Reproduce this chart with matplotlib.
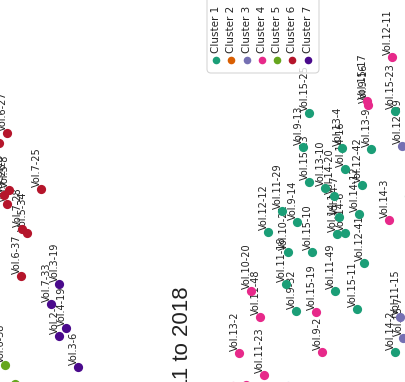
import matplotlib
matplotlib.use("Agg")
import matplotlib.pyplot as plt
from matplotlib.patches import FancyBboxPatch

# embedding coordinates (chart is shown turned on its side)
cluster_names = ["Cluster 1", "Cluster 2", "Cluster 3", "Cluster 4", "Cluster 5", "Cluster 6", "Cluster 7"]
cluster_colors = ["#1b9e77", "#d95f02", "#7570b3", "#e7298a", "#66a61e", "#b5152b", "#4a0a8c"]

labels = [
    # cluster 6
    "Vol.6-27", "Vol.6-5", "Vol.5-8", "Vol.6-15", "Vol.7-26", "Vol.7-28", "Vol.5-34", "Vol.6-37", "Vol.7-25",
    # cluster 7
    "Vol.7-33", "Vol.3-19", "Vol.4-19", "Vol.2-7", "Vol.3-6", "Vol.7-34", "Vol.7-27", "Vol.2-19",
    # cluster 5
    "Vol.6-38", "Vol.6-9",
    # cluster 4
    "Vol.15-17", "Vol.9-16", "Vol.12-11", "Vol.14-3", "Vol.10-20", "Vol.11-48", "Vol.13-2", "Vol.11-23",
    "Vol.15-19", "Vol.9-2", "Vol.10-39", "Vol.9-31", "Vol.14-5",
    # cluster 3
    "Vol.12-39", "Vol.11-15", "Vol.15-7", "Vol.12-14",
    # cluster 1
    "Vol.15-25", "Vol.9-13", "Vol.15-13", "Vol.13-10", "Vol.14-20", "Vol.13-4", "Vol.14-16", "Vol.14-7",
    "Vol.14-1", "Vol.14-6", "Vol.14-12", "Vol.12-42", "Vol.13-9", "Vol.15-23", "Vol.15-2", "Vol.12-10",
    "Vol.12-12", "Vol.11-29", "Vol.9-14", "Vol.10-21", "Vol.15-10", "Vol.11-18", "Vol.9-32", "Vol.11-49",
    "Vol.12-41", "Vol.15-11", "Vol.14-2", "Vol.10-33", "Vol.13-37",
]
cluster = [6] * 9 + [7] * 8 + [5] * 2 + [4] * 13 + [3] * 4 + [1] * 29

x = [0.7, -0.1, 0.9, 0.4, 0.7, 2.2, 2.7, 2.1, 4.1,
     5.1, 5.9, 6.6, 5.9, 7.8, 5.1, 8.3, 10.1,
     0.5, 1.5,
     36.7, 36.8, 39.2, 38.9, 25.1, 26.0, 23.9, 26.4, 31.6, 32.2, 24.6, 23.3, 31.9,
     40.2, 40.0, 40.3, 28.8,
     30.9, 30.3, 30.9, 32.5, 33.4, 34.2, 34.5, 33.9, 33.7, 34.5, 35.9, 36.2, 37.1, 39.5, 41.2, 40.9,
     26.8, 28.2, 29.7, 28.8, 31.2, 28.6, 29.6, 33.5, 36.4, 35.7, 39.5, 36.8, 39.3]
y = [13.3, 14.3, 19.0, 19.5, 20.4, 22.9, 23.3, 27.6, 18.9,
     30.4, 28.4, 32.8, 33.6, 36.7, 39.2, 39.4, 39.2,
     36.5, 38.4,
     10.1, 10.5, 5.7, 22.0, 29.1, 31.7, 35.3, 37.5, 31.2, 35.2, 38.5, 38.6, 39.3,
     14.6, 31.7, 33.8, 38.6,
     11.3, 14.7, 18.2, 18.8, 19.6, 14.8, 16.9, 21.7, 23.4, 23.3, 21.4, 18.5, 14.9, 11.1, 6.2, 19.6,
     23.2, 21.1, 22.2, 25.2, 25.2, 28.4, 31.1, 29.1, 26.3, 30.9, 35.2, 39.0, 39.6]

fig = plt.figure(figsize=(4.06, 3.82), dpi=100)
ax = fig.add_axes([0, 0, 1, 1])
ax.set_xlim(0, 40.6)
ax.set_ylim(38.2, 0)
ax.axis("off")

for i in range(len(labels)):
    col = cluster_colors[cluster[i] - 1]
    ax.scatter(x[i], y[i], s=44, color=col, zorder=3, linewidths=0)
    ax.annotate(labels[i], (x[i], y[i]), xytext=(0.5, 1.5), textcoords="offset points",
                rotation=90, ha="right", va="bottom", fontsize=7, color="#222222", zorder=2)

ax.text(18.3, 28.6, "Topic clusters of volumes from 2011 to 2018", rotation=90,
        ha="center", va="top", fontsize=16, family="Liberation Sans", color="#222222")

# legend, turned like the rest of the chart
box = FancyBboxPatch((20.7, -1.0), 11.2, 8.3, boxstyle="round,pad=0,rounding_size=0.4",
                     facecolor="white", edgecolor="#cccccc", linewidth=0.8, alpha=0.8, zorder=4)
ax.add_patch(box)
for i, name in enumerate(cluster_names):
    lx = 21.6 + i * 1.53
    ax.scatter(lx, 6.0, s=30, color=cluster_colors[i], zorder=5, linewidths=0)
    ax.text(lx, 5.3, name, rotation=90, ha="center", va="bottom", fontsize=7.5,
            color="#222222", zorder=5)

fig.savefig("out.png", dpi=100)
